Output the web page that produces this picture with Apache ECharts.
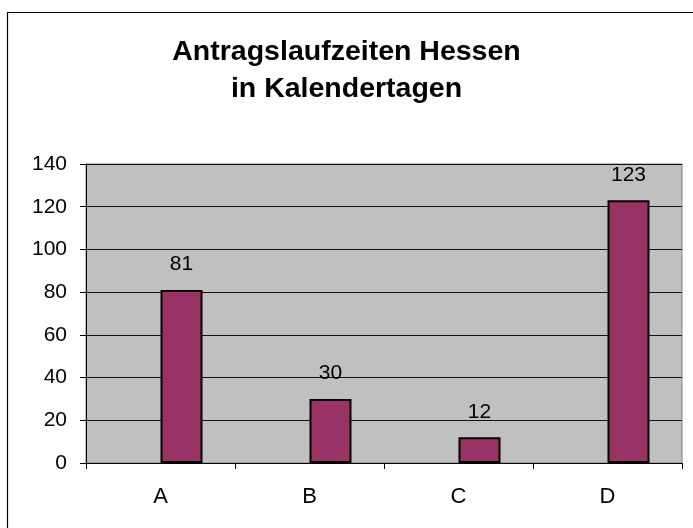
<!DOCTYPE html>
<html>
<head>
<meta charset="utf-8">
<script src="https://cdn.jsdelivr.net/npm/echarts@6/dist/echarts.min.js"></script>
<style>
  html, body { margin: 0; padding: 0; background: #fff; }
  #chart { width: 693px; height: 528px; }
</style>
</head>
<body>
<div id="chart"></div>
<script>
// Antragslaufzeiten je Kategorie (Kalendertage)
var categories = ['A', 'B', 'C', 'D'];
var tage = [81, 30, 12, 123];
var leer = [null, null, null, null]; // leere Reihe, schiebt die Balken nach rechts wie im Original
var yMin = 0, yMax = 140, yStep = 20;

var font = 'Liberation Sans, Arial, sans-serif';
var chart = echarts.init(document.getElementById('chart'));

var option = {
  animation: false,
  backgroundColor: '#fff',
  title: {
    text: 'Antragslaufzeiten Hessen\nin Kalendertagen',
    left: 'center',
    top: 29,
    padding: [5, 0, 5, 5], // leicht nach rechts wie im Original
    textStyle: { fontFamily: font, fontSize: 28.5, fontWeight: 'bold', color: '#000', lineHeight: 37 }
  },
  graphic: [
    { type: 'rect', shape: { x: 7.5, y: 12.5, width: 720, height: 560 },
      style: { fill: 'none', stroke: '#000', lineWidth: 1.2 }, silent: true }
  ],
  grid: {
    left: 86, top: 164, width: 596, height: 299,
    show: true, backgroundColor: '#c0c0c0', borderColor: '#808080', borderWidth: 1
  },
  xAxis: {
    type: 'category',
    data: categories,
    axisLine: { lineStyle: { color: '#000' } },
    axisTick: { show: true, length: 6, lineStyle: { color: '#000' } },
    axisLabel: { color: '#000', fontFamily: font, fontSize: 22, margin: 23 }
  },
  yAxis: {
    type: 'value',
    min: yMin, max: yMax, interval: yStep,
    axisLine: { show: true, lineStyle: { color: '#000' } },
    axisTick: { show: true, length: 6, lineStyle: { color: '#000' } },
    splitLine: { lineStyle: { color: '#111', width: 1 } },
    axisLabel: { color: '#000', fontFamily: font, fontSize: 21, margin: 19 }
  },
  series: [
    { type: 'bar', data: leer, barWidth: 42, barGap: '0%' },
    {
      type: 'bar', data: tage, barWidth: 42, barGap: '0%',
      itemStyle: { color: '#993366', borderColor: '#000', borderWidth: 2 },
      label: { show: true, position: 'top', distance: 15, color: '#000', fontFamily: font, fontSize: 21 }
    }
  ]
};
chart.setOption(option);
</script>
</body>
</html>
